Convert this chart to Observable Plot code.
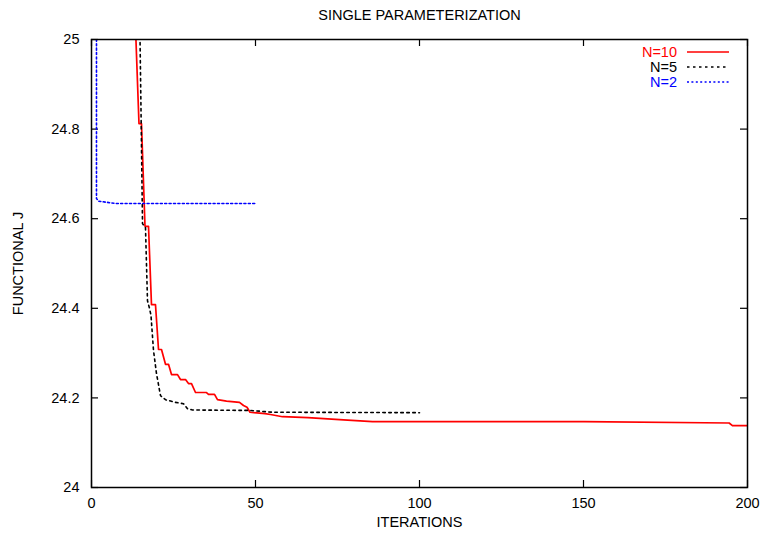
<!DOCTYPE html>
<html><head><meta charset="utf-8">
<script src="https://cdn.jsdelivr.net/npm/d3@7"></script>
<script src="https://cdn.jsdelivr.net/npm/@observablehq/plot@0.6"></script>
<style>body{margin:0;background:#fff}</style>
</head><body><div id="chart"></div><script>
const title = "SINGLE PARAMETERIZATION";
const xLabel = "ITERATIONS";
const yLabel = "FUNCTIONAL J";
const xTicks = [0, 50, 100, 150, 200];
const yTicks = [24, 24.2, 24.4, 24.6, 24.8, 25];
const seriesNames = ["N=10", "N=5", "N=2"];
const seriesColors = ["#ff0000", "#000000", "#0000ff"];

const n10Iter = [13.40, 14.48, 15.24, 16.31, 17.38, 18.29, 19.51, 20.43, 21.34, 22.56, 23.48, 24.39, 26.22, 27.13, 28.66, 29.57, 30.49, 31.71, 35.06, 35.67, 37.50, 38.41, 41.16, 45.12, 46.34, 47.41, 48.32, 52.90, 54.57, 58.23, 66.0, 76.83, 85.67, 150.15, 194.4, 195.4, 200];
const n10J = [25.03, 24.812, 24.812, 24.583, 24.583, 24.408, 24.408, 24.308, 24.308, 24.275, 24.275, 24.252, 24.252, 24.241, 24.241, 24.232, 24.232, 24.212, 24.212, 24.208, 24.208, 24.196, 24.193, 24.190, 24.183, 24.179, 24.168, 24.165, 24.163, 24.158, 24.156, 24.151, 24.147, 24.147, 24.144, 24.138, 24.138];

const n5Iter = [14.76, 15.15, 15.55, 16.46, 17.07, 17.68, 18.14, 18.90, 19.82, 21.04, 21.65, 22.56, 25.61, 28.05, 29.27, 30.79, 48.48, 55.18, 100];
const n5J = [25.02, 24.812, 24.589, 24.580, 24.417, 24.400, 24.384, 24.306, 24.254, 24.205, 24.201, 24.196, 24.190, 24.187, 24.176, 24.173, 24.172, 24.168, 24.167];

const n2Iter = [1.52, 1.52, 2.23, 4.27, 7.32, 50];
const n2J = [25.02, 24.645, 24.639, 24.637, 24.634, 24.634];

const rows = [];
[[n10Iter, n10J], [n5Iter, n5J], [n2Iter, n2J]].forEach(([xs, ys], k) => {
  xs.forEach((x, i) => rows.push({series: seriesNames[k], iter: x, J: ys[i]}));
});

const font = "'Liberation Sans', Arial, sans-serif";
const fs = 14.5;
const dashes = [null, "2.5,3.5", "2,2.4"];
const widths = [1.7, 1.6, 1.6];

const chart = Plot.plot({
  width: 763, height: 533,
  marginLeft: 91, marginRight: 16, marginTop: 39, marginBottom: 46,
  style: {fontFamily: font, fontSize: fs + "px", background: "#fff", color: "#000"},
  x: {domain: [0, 200]},
  y: {domain: [24, 25]},
  marks: [
    Plot.ruleX(xTicks, {x: d => d, insetTop: 441, stroke: "#000", strokeWidth: 1.2}),
    Plot.ruleX(xTicks, {x: d => d, insetBottom: 441, stroke: "#000", strokeWidth: 1.2}),
    Plot.ruleY(yTicks, {y: d => d, insetLeft: 649, stroke: "#000", strokeWidth: 1.2}),
    Plot.ruleY(yTicks, {y: d => d, insetRight: 649, stroke: "#000", strokeWidth: 1.2}),
    Plot.axisX({ticks: xTicks, tickSize: 0, tickPadding: 10, label: null, fontSize: fs}),
    Plot.axisY({ticks: yTicks, tickSize: 0, tickPadding: 12, label: null, fontSize: fs,
      tickFormat: d => String(+d.toFixed(1))}),
    ...seriesNames.map((s, k) => Plot.line(rows.filter(r => r.series === s), {
      x: "iter", y: "J", stroke: seriesColors[k], strokeWidth: widths[k],
      strokeDasharray: dashes[k], clip: true, curve: "linear"
    })),
    Plot.frame({stroke: "#000", strokeWidth: 1.5}),
    Plot.text([title], {text: d => d, frameAnchor: "top", lineAnchor: "middle", dy: -24, fontSize: fs}),
    Plot.text([xLabel], {text: d => d, frameAnchor: "bottom", lineAnchor: "middle", dy: 35, fontSize: fs}),
    Plot.text([yLabel], {text: d => d, frameAnchor: "left", textAnchor: "middle", lineAnchor: "middle", dx: -73, rotate: -90, fontSize: fs})
  ]
});

// legend (top-right, inside frame)
const svg = d3.select(chart);
const lg = svg.append("g").attr("font-family", font).attr("font-size", fs);
seriesNames.forEach((s, k) => {
  const y = 52 + 15 * k;
  lg.append("text").attr("x", 677).attr("y", y).attr("dy", "0.35em")
    .attr("text-anchor", "end").attr("fill", seriesColors[k]).text(s);
  lg.append("line").attr("x1", 687).attr("x2", 729).attr("y1", y).attr("y2", y)
    .attr("stroke", seriesColors[k]).attr("stroke-width", widths[k])
    .attr("stroke-dasharray", dashes[k]);
});

document.getElementById("chart").appendChild(chart);
</script></body></html>
